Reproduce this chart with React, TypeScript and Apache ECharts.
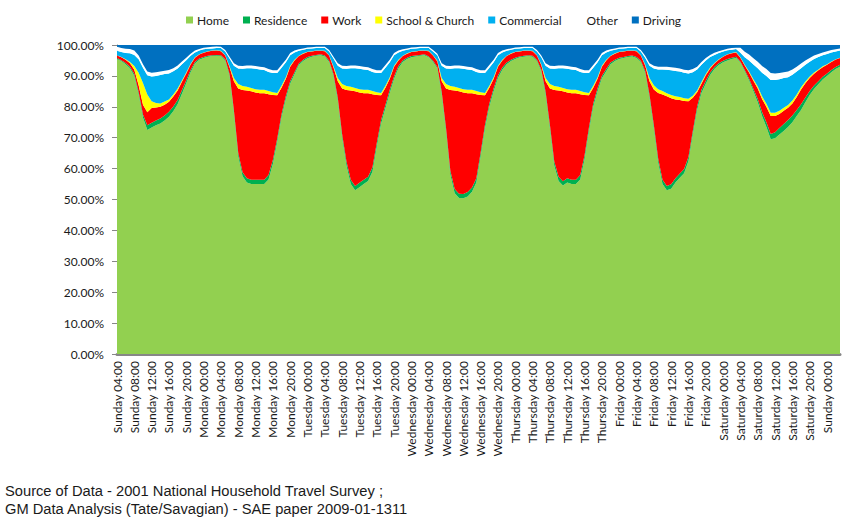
import React, { useEffect, useRef } from "react";
import * as echarts from "echarts";

// Category labels: hourly, starting Sunday 04:00 (one survey week)
const dayNames = ["Sunday", "Monday", "Tuesday", "Wednesday", "Thursday", "Friday", "Saturday", "Sunday"];
const startHour = 4;
const hourCount = 168;

const seriesNames = ["Home", "Residence", "Work", "School & Church", "Commercial", "Other", "Driving"];
const seriesColors = ["#92D050", "#00B050", "#FF0000", "#FFFF00", "#00B0F0", "#FFFFFF", "#0070C0"];

// Percent of people at each location, hour by hour (each day row starts 04:00)
const home = [
  95.5, 94.8, 93.8, 92.5, 90.0, 84.0, 76.5, 72.5, 73.3, 74.0, 74.6, 75.6, 76.8, 78.6, 80.8, 84.2, 87.6, 91.2, 94.0, 95.2, 95.8, 96.2, 96.4, 96.5,
  96.4, 95.0, 90.0, 78.0, 64.0, 57.5, 55.5, 55.0, 55.0, 55.0, 55.0, 56.5, 61.5, 68.5, 76.5, 82.5, 87.5, 90.5, 93.5, 94.8, 95.7, 96.2, 96.5, 96.7,
  96.3, 94.5, 90.0, 82.0, 70.0, 61.0, 55.0, 53.0, 54.0, 55.0, 56.0, 59.0, 67.0, 74.5, 79.5, 84.5, 89.0, 92.5, 94.5, 95.5, 96.0, 96.3, 96.5, 96.7,
  96.0, 94.5, 92.5, 84.0, 72.0, 58.0, 52.0, 50.5, 50.4, 51.0, 52.5, 55.5, 64.0, 73.0, 80.0, 85.0, 89.3, 92.0, 93.8, 94.8, 95.5, 96.0, 96.2, 96.4,
  96.2, 94.8, 91.5, 84.0, 73.0, 61.0, 56.0, 54.5, 55.5, 55.0, 55.0, 56.5, 63.0, 72.0, 80.0, 85.0, 89.2, 91.5, 93.8, 94.8, 95.5, 95.8, 96.1, 96.3,
  95.8, 94.5, 91.0, 83.0, 73.0, 62.0, 55.0, 53.0, 53.5, 55.5, 57.0, 58.5, 62.5, 71.0, 79.0, 84.5, 87.5, 90.3, 92.2, 93.5, 94.4, 95.0, 95.5, 95.8,
  94.3, 91.5, 88.5, 85.0, 81.5, 77.0, 73.5, 69.5, 69.8, 71.0, 72.2, 73.5, 75.0, 77.0, 79.0, 81.5, 83.8, 85.8, 87.3, 88.8, 90.0, 91.2, 92.2, 93.0,
];

const residence = [
  0.3, 0.3, 0.4, 0.5, 0.6, 0.8, 1.0, 1.5, 1.5, 1.6, 1.6, 1.6, 1.6, 1.5, 1.4, 1.2, 1.0, 0.7, 0.5, 0.4, 0.3, 0.3, 0.3, 0.3,
  0.3, 0.4, 0.6, 0.9, 1.1, 1.3, 1.4, 1.4, 1.4, 1.4, 1.4, 1.4, 1.3, 1.2, 1.1, 1.0, 0.8, 0.7, 0.5, 0.4, 0.4, 0.3, 0.3, 0.3,
  0.3, 0.4, 0.6, 0.9, 1.1, 1.3, 1.4, 1.4, 1.4, 1.4, 1.4, 1.4, 1.3, 1.2, 1.1, 1.0, 0.8, 0.7, 0.5, 0.4, 0.4, 0.3, 0.3, 0.3,
  0.3, 0.4, 0.4, 0.9, 1.1, 1.3, 1.4, 1.4, 1.4, 1.4, 1.4, 1.4, 1.3, 1.2, 1.1, 1.0, 0.8, 0.7, 0.5, 0.4, 0.4, 0.3, 0.3, 0.3,
  0.3, 0.4, 0.5, 0.9, 1.1, 1.3, 1.4, 1.4, 1.4, 1.4, 1.4, 1.4, 1.3, 1.2, 1.1, 1.0, 0.8, 0.7, 0.5, 0.4, 0.4, 0.3, 0.3, 0.3,
  0.3, 0.4, 0.6, 0.9, 1.1, 1.3, 1.4, 1.4, 1.4, 1.4, 1.4, 1.4, 1.3, 1.2, 1.1, 1.0, 0.9, 0.8, 0.7, 0.6, 0.5, 0.5, 0.4, 0.4,
  0.3, 0.4, 0.6, 0.8, 1.0, 1.3, 1.5, 1.7, 2.0, 2.1, 2.2, 2.2, 2.2, 2.0, 1.8, 1.5, 1.3, 1.1, 1.0, 0.9, 0.8, 0.7, 0.7, 0.6,
];

const work = [
  0.8, 0.9, 1.0, 1.1, 1.4, 2.2, 3.2, 4.2, 4.8, 4.2, 3.8, 3.5, 3.2, 3.2, 3.1, 2.7, 2.2, 1.8, 1.4, 1.3, 1.4, 1.4, 1.4, 1.4,
  1.3, 1.2, 2.2, 9.4, 20.8, 26.6, 28.4, 28.6, 28.2, 28.0, 28.0, 26.2, 21.0, 14.0, 8.6, 5.6, 4.7, 3.8, 2.4, 2.0, 1.6, 1.4, 1.3, 1.1,
  1.4, 1.7, 2.2, 5.4, 14.8, 23.1, 28.9, 30.6, 29.2, 28.0, 27.0, 23.7, 15.5, 8.0, 5.6, 3.6, 3.2, 1.8, 1.4, 1.3, 1.3, 1.3, 1.3, 1.1,
  1.7, 1.7, 1.8, 3.4, 12.8, 26.1, 31.9, 33.1, 32.8, 32.0, 30.5, 27.2, 18.5, 9.5, 5.1, 3.1, 2.9, 2.3, 2.1, 2.0, 1.8, 1.6, 1.6, 1.4,
  1.5, 1.4, 1.5, 3.4, 11.8, 23.1, 27.9, 29.1, 27.7, 28.0, 28.0, 26.2, 19.5, 10.5, 5.1, 3.1, 3.0, 2.8, 2.1, 2.0, 1.8, 1.8, 1.7, 1.5,
  1.9, 1.7, 1.8, 4.4, 11.5, 21.2, 27.6, 29.0, 27.9, 25.5, 23.8, 22.0, 18.0, 10.7, 4.6, 2.0, 1.8, 1.3, 1.1, 1.1, 1.3, 1.4, 1.4, 1.4,
  1.3, 1.5, 2.0, 2.6, 3.4, 4.2, 5.0, 5.8, 5.2, 4.6, 4.3, 4.0, 3.9, 4.2, 4.8, 4.6, 4.2, 3.8, 3.5, 3.1, 2.8, 2.6, 2.4, 2.2,
];

const schoolChurch = [
  0.1, 0.1, 0.2, 0.4, 1.2, 4.0, 7.0, 5.8, 2.2, 1.4, 1.1, 1.0, 0.8, 0.7, 0.6, 0.4, 0.3, 0.2, 0.1, 0.1, 0.1, 0.1, 0.1, 0.1,
  0.1, 0.1, 0.3, 1.0, 1.5, 1.3, 1.2, 1.1, 1.1, 1.1, 1.1, 1.0, 0.9, 0.8, 0.6, 0.5, 0.3, 0.2, 0.1, 0.1, 0.1, 0.1, 0.1, 0.1,
  0.1, 0.1, 0.3, 1.0, 1.5, 1.3, 1.2, 1.1, 1.1, 1.1, 1.1, 1.0, 0.9, 0.8, 0.6, 0.5, 0.3, 0.2, 0.1, 0.1, 0.1, 0.1, 0.1, 0.1,
  0.1, 0.1, 0.2, 1.0, 1.5, 1.3, 1.2, 1.1, 1.1, 1.1, 1.1, 1.0, 0.9, 0.8, 0.6, 0.5, 0.3, 0.2, 0.1, 0.1, 0.1, 0.1, 0.1, 0.1,
  0.1, 0.1, 0.3, 1.0, 1.5, 1.3, 1.2, 1.1, 1.1, 1.1, 1.1, 1.0, 0.9, 0.8, 0.6, 0.5, 0.3, 0.2, 0.1, 0.1, 0.1, 0.1, 0.1, 0.1,
  0.1, 0.1, 0.3, 1.0, 1.4, 1.2, 1.1, 1.0, 1.0, 1.0, 1.0, 0.9, 0.8, 0.7, 0.6, 0.5, 0.4, 0.3, 0.2, 0.2, 0.1, 0.1, 0.1, 0.1,
  0.1, 0.2, 0.3, 0.5, 0.7, 0.9, 1.0, 1.1, 1.1, 1.0, 1.0, 0.9, 0.9, 0.8, 0.7, 0.6, 0.5, 0.4, 0.3, 0.3, 0.2, 0.2, 0.1, 0.1,
];

const commercial = [
  1.4, 1.6, 2.0, 2.8, 3.6, 4.4, 4.9, 6.2, 8.0, 8.8, 9.2, 8.9, 8.4, 7.5, 6.5, 5.3, 4.0, 2.6, 1.6, 1.2, 1.0, 0.8, 0.7, 0.7,
  0.9, 1.2, 2.5, 4.0, 5.0, 5.6, 6.0, 6.4, 6.6, 6.6, 6.4, 6.2, 6.2, 6.4, 5.8, 4.8, 3.4, 2.4, 1.6, 1.2, 1.0, 0.9, 0.8, 0.8,
  0.9, 1.2, 2.5, 4.0, 5.0, 5.6, 6.0, 6.4, 6.6, 6.6, 6.4, 6.2, 6.2, 6.4, 5.8, 4.8, 3.4, 2.4, 1.6, 1.2, 1.0, 0.9, 0.8, 0.8,
  0.9, 1.2, 1.8, 4.0, 5.0, 5.6, 6.0, 6.4, 6.6, 6.6, 6.4, 6.2, 6.2, 6.4, 5.8, 4.8, 3.4, 2.4, 1.6, 1.2, 1.0, 0.9, 0.8, 0.8,
  0.9, 1.2, 2.2, 4.0, 5.0, 5.6, 6.0, 6.4, 6.6, 6.6, 6.4, 6.2, 6.2, 6.4, 5.8, 4.8, 3.4, 2.4, 1.6, 1.2, 1.0, 0.9, 0.8, 0.8,
  0.9, 1.2, 2.2, 4.0, 5.4, 6.4, 7.0, 7.6, 8.0, 8.2, 8.2, 8.2, 8.2, 7.6, 6.8, 5.6, 4.4, 3.4, 2.6, 2.0, 1.6, 1.3, 1.1, 1.0,
  1.5, 2.4, 3.6, 4.8, 5.9, 7.6, 9.0, 10.6, 10.6, 10.2, 9.6, 9.0, 8.4, 7.4, 6.2, 5.4, 4.8, 4.4, 4.0, 3.6, 3.3, 2.9, 2.5, 2.3,
];

const other = [
  1.3, 1.3, 1.4, 1.4, 1.4, 1.2, 1.2, 1.2, 1.2, 1.2, 1.1, 1.1, 1.1, 1.0, 1.0, 0.9, 0.8, 0.7, 0.6, 0.5, 0.5, 0.5, 0.5, 0.5,
  0.4, 0.5, 0.6, 0.8, 0.9, 0.9, 0.9, 0.9, 0.9, 0.9, 0.9, 0.9, 0.9, 0.9, 0.9, 0.8, 0.7, 0.6, 0.5, 0.4, 0.4, 0.4, 0.4, 0.4,
  0.4, 0.5, 0.6, 0.8, 0.9, 0.9, 0.9, 0.9, 0.9, 0.9, 0.9, 0.9, 0.9, 0.9, 0.9, 0.8, 0.7, 0.6, 0.5, 0.4, 0.4, 0.4, 0.4, 0.4,
  0.4, 0.5, 0.5, 0.8, 0.9, 0.9, 0.9, 0.9, 0.9, 0.9, 0.9, 0.9, 0.9, 0.9, 0.9, 0.8, 0.7, 0.6, 0.5, 0.4, 0.4, 0.4, 0.4, 0.4,
  0.4, 0.5, 0.6, 0.8, 0.9, 0.9, 0.9, 0.9, 0.9, 0.9, 0.9, 0.9, 0.9, 0.9, 0.9, 0.8, 0.7, 0.6, 0.5, 0.4, 0.4, 0.4, 0.4, 0.4,
  0.4, 0.5, 0.6, 0.8, 0.9, 0.9, 0.9, 1.0, 1.0, 1.0, 1.0, 1.0, 1.0, 1.0, 0.9, 0.9, 0.8, 0.7, 0.7, 0.6, 0.5, 0.5, 0.5, 0.4,
  1.6, 1.8, 1.9, 2.0, 2.1, 2.2, 2.2, 2.2, 2.1, 2.0, 1.9, 1.8, 1.7, 1.6, 1.5, 1.4, 1.2, 1.1, 1.0, 0.9, 0.9, 0.8, 0.7, 0.7,
];

const driving = [
  0.6, 1.0, 1.2, 1.3, 1.8, 3.4, 6.2, 8.6, 9.0, 8.8, 8.6, 8.3, 8.1, 7.5, 6.6, 5.3, 4.1, 2.8, 1.8, 1.3, 0.9, 0.7, 0.6, 0.5,
  0.6, 1.6, 3.8, 5.9, 6.7, 6.8, 6.6, 6.6, 6.8, 7.0, 7.2, 7.8, 8.2, 8.2, 6.5, 4.8, 2.6, 1.8, 1.4, 1.1, 0.8, 0.7, 0.6, 0.6,
  0.6, 1.6, 3.8, 5.9, 6.7, 6.8, 6.6, 6.6, 6.8, 7.0, 7.2, 7.8, 8.2, 8.2, 6.5, 4.8, 2.6, 1.8, 1.4, 1.1, 0.8, 0.7, 0.6, 0.6,
  0.6, 1.6, 2.8, 5.9, 6.7, 6.8, 6.6, 6.6, 6.8, 7.0, 7.2, 7.8, 8.2, 8.2, 6.5, 4.8, 2.6, 1.8, 1.4, 1.1, 0.8, 0.7, 0.6, 0.6,
  0.6, 1.6, 3.4, 5.9, 6.7, 6.8, 6.6, 6.6, 6.8, 7.0, 7.2, 7.8, 8.2, 8.2, 6.5, 4.8, 2.6, 1.8, 1.4, 1.1, 0.8, 0.7, 0.6, 0.6,
  0.6, 1.6, 3.5, 5.9, 6.7, 7.0, 7.0, 7.0, 7.2, 7.4, 7.6, 8.0, 8.2, 7.8, 7.0, 5.5, 4.2, 3.2, 2.5, 2.0, 1.6, 1.2, 1.0, 0.9,
  0.9, 2.2, 3.1, 4.3, 5.4, 6.8, 7.8, 9.1, 9.2, 9.1, 8.8, 8.6, 7.9, 7.0, 6.0, 5.0, 4.2, 3.4, 2.9, 2.4, 2.0, 1.6, 1.4, 1.1,
];

const yTicks = [0, 10, 20, 30, 40, 50, 60, 70, 80, 90, 100];

const sourceLines = [
  "Source of Data - 2001 National Household Travel Survey ;",
  "GM Data Analysis (Tate/Savagian) - SAE paper 2009-01-1311",
];

const categories = Array.from({ length: hourCount }, (_, i) => {
  const abs = i + startHour;
  const d = Math.floor(abs / 24);
  const hh = abs % 24;
  return `${dayNames[d]} ${String(hh).padStart(2, "0")}:00`;
});

const seriesData = [home, residence, work, schoolChurch, commercial, other, driving];

export default function App() {
  const ref = useRef<HTMLDivElement>(null);

  useEffect(() => {
    if (!ref.current) return;
    const chart = echarts.init(ref.current, undefined, { renderer: "svg" });
    const font = "Lato, 'Open Sans', sans-serif";
    chart.setOption({
      animation: false,
      backgroundColor: "#ffffff",
      color: seriesColors,
      legend: {
        data: seriesNames,
        left: 181,
        top: 9,
        icon: "rect",
        itemWidth: 7,
        itemHeight: 7,
        itemGap: 14,
        textStyle: { fontFamily: font, fontSize: 12, color: "#1a1a1a", padding: [0, 0, 0, -1] },
      },
      grid: { left: 117, right: 8, top: 45, bottom: 169, containLabel: false },
      xAxis: {
        type: "category",
        data: categories,
        boundaryGap: false,
        axisLine: { show: true, lineStyle: { color: "#878787", width: 3 } },
        axisTick: { show: false },
        axisLabel: {
          interval: 3,
          rotate: 90,
          margin: 7,
          fontFamily: font,
          fontSize: 12,
          color: "#1a1a1a",
        },
        splitLine: { show: false },
      },
      yAxis: {
        type: "value",
        min: 0,
        max: 100,
        interval: 10,
        axisLine: { show: true, lineStyle: { color: "#878787", width: 1 } },
        axisTick: { show: true, length: 5, lineStyle: { color: "#878787" } },
        axisLabel: {
          margin: 13,
          fontFamily: font,
          fontSize: 12,
          color: "#1a1a1a",
          formatter: (v: number) => (yTicks.includes(v) ? `${v.toFixed(2)}%` : ""),
        },
        splitLine: { show: false },
      },
      series: seriesNames.map((name, i) => ({
        name,
        type: "line",
        stack: "total",
        data: seriesData[i],
        symbol: "none",
        showSymbol: false,
        lineStyle: { width: 0 },
        areaStyle: { color: seriesColors[i], opacity: 1 },
        itemStyle: { color: seriesColors[i] },
        emphasis: { disabled: true },
      })),
      graphic: sourceLines.map((t, i) => ({
        type: "text",
        left: 5,
        top: 483 + i * 18,
        style: {
          text: t,
          fontFamily: "'Liberation Sans', Arial, sans-serif",
          fontSize: 14.7,
          fill: "#1a1a1a",
        },
      })),
    });
    return () => chart.dispose();
  }, []);

  return (
    <div
      ref={ref}
      style={{ position: "fixed", left: 0, top: 0, width: 848, height: 523 }}
    />
  );
}
